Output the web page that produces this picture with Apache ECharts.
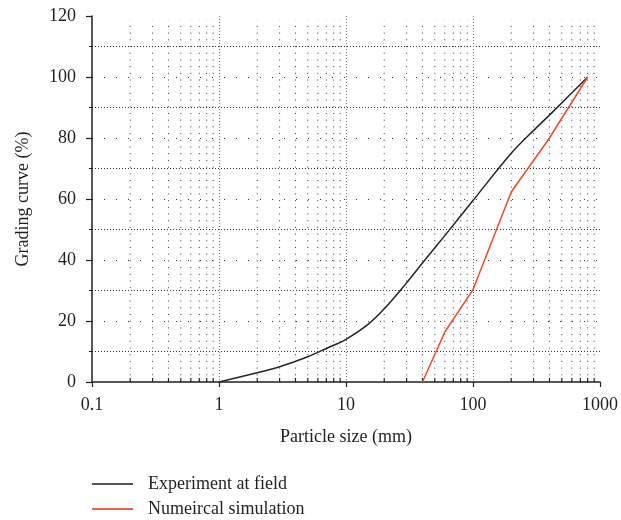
<!DOCTYPE html>
<html><head><meta charset="utf-8">
<script src="https://cdn.jsdelivr.net/npm/echarts@6/dist/echarts.min.js"></script>
<style>html,body{margin:0;padding:0;background:#fff}#c{width:621px;height:520px}</style>
</head><body><div id="c"></div>
<script>
const expSize = [1, 2, 3, 5, 7, 10, 15, 20, 30, 40, 60, 100, 200, 300, 400, 800];
const expPass = [0, 3, 5, 8.3, 11, 14, 19, 24, 32.5, 39, 48, 59.5, 75, 82.5, 87.5, 100];
const simSize = [40, 60, 100, 200, 400, 800];
const simPass = [0, 16.4, 30.3, 62.3, 80, 100];
const xTicks = [0.1, 1, 10, 100, 1000];
const minorX = [];
[0.1, 1, 10, 100].forEach(d => { for (let k = 2; k <= 9; k++) minorX.push(+(d * k).toPrecision(3)); });

const serif = '"Liberation Serif", "DejaVu Serif", serif';
const ink = '#231f20';
const legendBase = {
  orient: 'vertical', left: 92, itemWidth: 41, itemHeight: 2, icon: 'rect', padding: 0,
  textStyle: {fontFamily: serif, fontSize: 18, color: ink, lineHeight: 20, padding: [0, 0, 0, 10]}
};
const chart = echarts.init(document.getElementById('c'), null, {renderer: 'canvas'});
chart.setOption({
  animation: false,
  grid: {left: 92, right: 21, top: 16, bottom: 138},
  xAxis: {
    type: 'log', logBase: 10, min: 0.1, max: 1000,
    name: 'Particle size (mm)', nameLocation: 'middle', nameGap: 46,
    nameTextStyle: {fontFamily: serif, fontSize: 18, color: ink},
    axisLine: {lineStyle: {color: ink, width: 1.5}},
    axisTick: {show: true, length: 5, lineStyle: {color: ink, width: 1.2}},
    axisLabel: {fontFamily: serif, fontSize: 18, color: ink, margin: 14,
      formatter: v => String(v)},
    splitLine: {show: true, showMinLine: false, showMaxLine: false,
      lineStyle: {color: '#777', type: [1, 2], width: 1}}
  },
  yAxis: {
    type: 'value', min: 0, max: 120, interval: 20,
    name: 'Grading curve (%)', nameLocation: 'middle', nameGap: 60,
    nameTextStyle: {fontFamily: serif, fontSize: 18, color: ink},
    axisLine: {show: true, lineStyle: {color: ink, width: 1.5}},
    axisTick: {show: true, length: 6, lineStyle: {color: ink, width: 1.2}},
    minorTick: {show: true, splitNumber: 2, length: 3, lineStyle: {color: ink}},
    axisLabel: {fontFamily: serif, fontSize: 18, color: ink, margin: 16},
    splitLine: {show: true, showMinLine: false, showMaxLine: false,
      lineStyle: {color: '#333', type: [1, 11], width: 1}},
    minorSplitLine: {show: true, lineStyle: {color: '#333', type: [1, 2], width: 1}}
  },
  legend: [
    Object.assign({}, legendBase, {data: ['Experiment at field'], top: 474}),
    Object.assign({}, legendBase, {data: ['Numeircal simulation'], top: 499})
  ],
  series: [
    {
      type: 'custom', name: 'minorGrid', silent: true, z: 1,
      data: minorX.map(v => [v, 0]),
      renderItem: function (params, api) {
        const v = api.value(0);
        const p0 = api.coord([v, 0]);
        const p1 = api.coord([v, 120]);
        return {type: 'group', children: [
          {type: 'line', shape: {x1: p0[0], y1: p0[1], x2: p1[0], y2: p1[1] + 4},
            style: {stroke: '#333', lineWidth: 1, lineDash: [1, 5.7]}},
          {type: 'line', shape: {x1: p0[0], y1: p0[1], x2: p0[0], y2: p0[1] - 4},
            style: {stroke: ink, lineWidth: 1.2}}
        ]};
      }
    },
    {
      name: 'Experiment at field', type: 'line', z: 5,
      data: expSize.map((x, i) => [x, expPass[i]]),
      smooth: 0.35, showSymbol: false, symbol: 'none',
      lineStyle: {color: '#262626', width: 1.5}, itemStyle: {color: '#555'}
    },
    {
      name: 'Numeircal simulation', type: 'line', z: 5,
      data: simSize.map((x, i) => [x, simPass[i]]),
      showSymbol: false, symbol: 'none',
      lineStyle: {color: '#f04a2c', width: 1.5}, itemStyle: {color: '#f06048'}
    }
  ]
});
</script></body></html>
